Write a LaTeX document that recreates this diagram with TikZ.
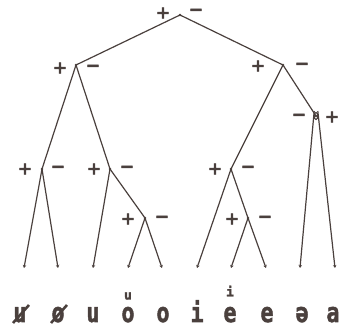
\documentclass[tikz,border=0pt]{standalone}
\usepackage{fontspec}
\usetikzlibrary{arrows.meta}
\newfontfamily\signfont[FakeBold=3]{DejaVu Sans Bold}
\newfontfamily\letterfont[FakeBold=2]{DejaVu Sans Mono Bold}
\definecolor{ink}{HTML}{4A403D}
\tikzset{
  br/.style={draw=ink, line width=1.2pt},
  lf/.style={draw=ink, line width=1.2pt, -{Stealth[length=3pt,width=3.5pt]}},
  pt/.style={circle, fill=ink, inner sep=0pt, minimum size=2.6pt},
  sg/.style={text=ink, inner sep=0pt, font=\signfont\fontsize{17}{17}\selectfont},
  lt/.style={text=ink, inner sep=0pt, anchor=base, font=\letterfont\fontsize{27}{27}\selectfont},
  acc/.style={text=ink, inner sep=0pt, font=\letterfont\fontsize{13}{13}\selectfont},
  sl/.style={draw=ink, line width=2.6pt},
}
\begin{document}
\begin{tikzpicture}[x=1pt,y=-1pt]
\useasboundingbox (0,0) rectangle (341,328);
% internal nodes
\node[pt] (r) at (180,15) {};
\node[pt] (a) at (76,65) {};
\node[pt] (b) at (283,65) {};
\node[pt] (c) at (42,169) {};
\node[pt] (d) at (110,169) {};
\node[pt] (e) at (231,169) {};
\node[pt] (f) at (316,116) {};
\node[pt] (g) at (145,218) {};
\node[pt] (h) at (248,218) {};
% leaves
\foreach \i/\x in {1/24,2/58,3/93,4/128,5/162,6/197,7/231,8/266,9/300,10/335}
  \coordinate (l\i) at (\x,268);
% signs
\node[sg] at (163,13) {+}; \node[sg] at (196,12) {−};
\node[sg] at (60,68) {+};  \node[sg] at (93,68) {−};
\node[sg] at (258,66) {+}; \node[sg] at (302,66) {−};
\node[sg] at (299,117) {−}; \node[sg] at (332,117) {+};
\node[sg] at (25,169) {+}; \node[sg] at (58,169) {−};
\node[sg] at (94,169) {+}; \node[sg] at (127,169) {−};
\node[sg] at (215,169) {+}; \node[sg] at (248,169) {−};
\node[sg] at (128,219) {+}; \node[sg] at (162,219) {−};
\node[sg] at (232,219) {+}; \node[sg] at (265,219) {−};
% branches
\draw[br] (r.center) -- (a.center);
\draw[br] (r.center) -- (b.center);
\draw[br] (a.center) -- (c.center);
\draw[br] (a.center) -- (d.center);
\draw[br] (b.center) -- (e.center);
\draw[br] (b.center) -- (f.center);
\draw[br] (d.center) -- (g.center);
\draw[br] (e.center) -- (h.center);
\draw[lf] (c.center) -- (l1);
\draw[lf] (c.center) -- (l2);
\draw[lf] (d.center) -- (l3);
\draw[lf] (g.center) -- (l4);
\draw[lf] (g.center) -- (l5);
\draw[lf] (e.center) -- (l6);
\draw[lf] (h.center) -- (l7);
\draw[lf] (h.center) -- (l8);
\draw[lf] ([xshift=-1.8pt,yshift=5pt]f.center) -- (l9);
\draw[lf] ([xshift=1.8pt,yshift=5pt]f.center) -- (l10);
\draw[draw=ink, line width=1.1pt] (f.center) ellipse (1.8pt and 3.5pt);
% labels
\node[lt] (t1) at (20,322) {\scalebox{0.8}[1]{u}};
\draw[sl] (13,323) -- (29,305);
\node[lt] (t2) at (58,322) {\scalebox{0.8}[1]{o}};
\draw[sl] (51,323) -- (67,305);
\node[lt] (t3) at (93,322) {\scalebox{0.8}[1]{u}};
\node[lt] (t4) at (128,322) {\scalebox{0.8}[1]{o}};
\node[acc] (t4a) at (128,296) {u};
\node[lt] (t5) at (163,322) {\scalebox{0.8}[1]{o}};
\node[lt] (t6) at (197,322) {\scalebox{0.8}[1]{i}};
\node[lt] (t7) at (230,322) {\scalebox{0.8}[1]{e}};
\node[acc] (t7a) at (230,291) {i};
\node[lt] (t8) at (267,322) {\scalebox{0.8}[1]{e}};
\node[lt] (t9) at (302,322) {\scalebox{0.8}[1]{ə}};
\node[lt] (t10) at (333,322) {\scalebox{0.8}[1]{a}};
\end{tikzpicture}
\end{document}
